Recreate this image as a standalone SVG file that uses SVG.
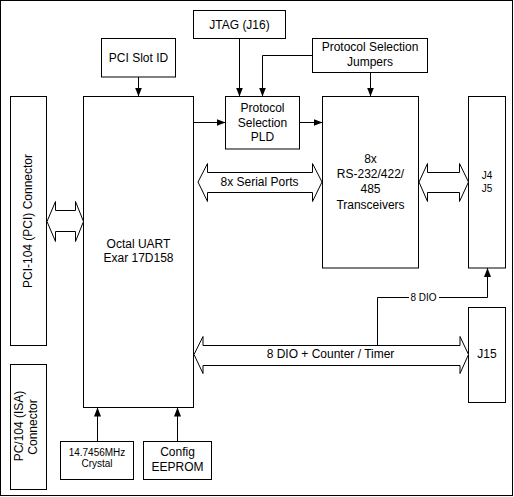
<svg xmlns="http://www.w3.org/2000/svg" width="514" height="497" viewBox="0 0 514 497">
<defs>
<marker id="ah" markerUnits="userSpaceOnUse" markerWidth="10" markerHeight="8" refX="9" refY="3.5" orient="auto">
<path d="M0,0 L9,3.5 L0,7 z" fill="#000"/>
</marker>
<style>
.box{fill:#fff;stroke:#000;stroke-width:1}
.t{font-family:"Liberation Sans",Arial,sans-serif;font-size:12px;fill:#000;text-anchor:middle}
.s{font-size:10px}
.ln{fill:none;stroke:#000;stroke-width:1}
.ar{marker-end:url(#ah)}
.bus{fill:#fff;stroke:#000;stroke-width:1}
</style>
</defs>
<rect x="0.5" y="0.5" width="512" height="495" fill="#fff" stroke="#000"/>

<g id="pci-connector">
<rect class="box" x="10.5" y="96.5" width="36" height="249"/>
<text class="t" transform="translate(32,221) rotate(-90)">PCI-104 (PCI) Connector</text>
</g>
<g id="isa-connector">
<rect class="box" x="10.5" y="364.5" width="36" height="125"/>
<text class="t" transform="translate(23,426) rotate(-90)">PC/104 (ISA)</text>
<text class="t" transform="translate(37,427) rotate(-90)">Connector</text>
</g>
<g id="uart">
<rect class="box" x="83.5" y="96.5" width="110" height="311"/>
<text class="t" x="138.5" y="247.5">Octal UART</text>
<text class="t" x="138.5" y="262">Exar 17D158</text>
</g>
<g id="pci-slot-id">
<rect class="box" x="101.5" y="38.5" width="74" height="38.5"/>
<text class="t" x="138.5" y="62">PCI Slot ID</text>
</g>
<g id="jtag">
<rect class="box" x="193.5" y="10.5" width="92" height="28"/>
<text class="t" x="239.5" y="28.5">JTAG (J16)</text>
</g>
<g id="jumpers">
<rect class="box" x="312.5" y="38.5" width="115" height="34"/>
<text class="t" x="370" y="51">Protocol Selection</text>
<text class="t" x="370" y="66">Jumpers</text>
</g>
<g id="pld">
<rect class="box" x="225.5" y="96.5" width="74" height="52.5"/>
<text class="t" x="262.5" y="111.5">Protocol</text>
<text class="t" x="262.5" y="126.5">Selection</text>
<text class="t" x="262.5" y="141">PLD</text>
</g>
<g id="transceivers">
<rect class="box" x="322.5" y="96.5" width="96" height="171.5"/>
<text class="t" x="370.5" y="162.5">8x</text>
<text class="t" x="370.5" y="177.5">RS-232/422/</text>
<text class="t" x="370.5" y="193">485</text>
<text class="t" x="370.5" y="208.5">Transceivers</text>
</g>
<g id="j4j5">
<rect class="box" x="468.5" y="96.5" width="37" height="171.5"/>
<text class="t s" x="487" y="179">J4</text>
<text class="t s" x="487" y="192">J5</text>
</g>
<g id="j15">
<rect class="box" x="468.5" y="307.5" width="37" height="95"/>
<text class="t" x="487" y="358">J15</text>
</g>
<g id="crystal">
<rect class="box" x="60.5" y="441.5" width="73" height="38"/>
<text class="t s" x="97" y="455.5">14.7456MHz</text>
<text class="t s" x="97" y="467">Crystal</text>
</g>
<g id="eeprom">
<rect class="box" x="143.5" y="441.5" width="68" height="38"/>
<text class="t" x="177.5" y="455.5">Config</text>
<text class="t" x="177.5" y="471">EEPROM</text>
</g>

<g id="connectors">
<polygon class="bus" points="47,221.5 55.5,201.5 55.5,210.5 75.5,210.5 75.5,201.5 83.5,221.5 75.5,241.5 75.5,231.5 55.5,231.5 55.5,241.5"/>
<polygon class="bus" points="198,182 207.5,163.5 207.5,172.5 312.5,172.5 312.5,163.5 322,182 312.5,201.5 312.5,192.5 207.5,192.5 207.5,201.5"/>
<text class="t" x="259.5" y="186">8x Serial Ports</text>
<polygon class="bus" points="419,182 427.5,163.5 427.5,172.5 459.5,172.5 459.5,163.5 468.5,182 459.5,201.5 459.5,192.5 427.5,192.5 427.5,201.5"/>
<polygon class="bus" points="194,354.5 203,336.5 203,345.5 460,345.5 460,336.5 468.5,354.5 460,373.5 460,365.5 203,365.5 203,373.5"/>
<text class="t" x="330.5" y="358">8 DIO + Counter / Timer</text>

<path class="ln ar" d="M138.5,77 V96.5"/>
<path class="ln ar" d="M239.5,38.5 V96.5"/>
<path class="ln ar" d="M312.5,55.5 H262.5 V96.5"/>
<path class="ln ar" d="M370.5,72.5 V96.5"/>
<path class="ln ar" d="M193.5,122.5 H225.5"/>
<path class="ln ar" d="M299.5,122.5 H322.5"/>
<path class="ln ar" d="M97.5,441.5 V407.5"/>
<path class="ln ar" d="M177.5,441.5 V407.5"/>
<path class="ln ar" d="M377.5,345.5 V297.5 H487.5 V268"/>
<rect x="409" y="291" width="30" height="12" fill="#fff"/>
<text class="t s" x="423.5" y="301">8 DIO</text>
</g>
</svg>
